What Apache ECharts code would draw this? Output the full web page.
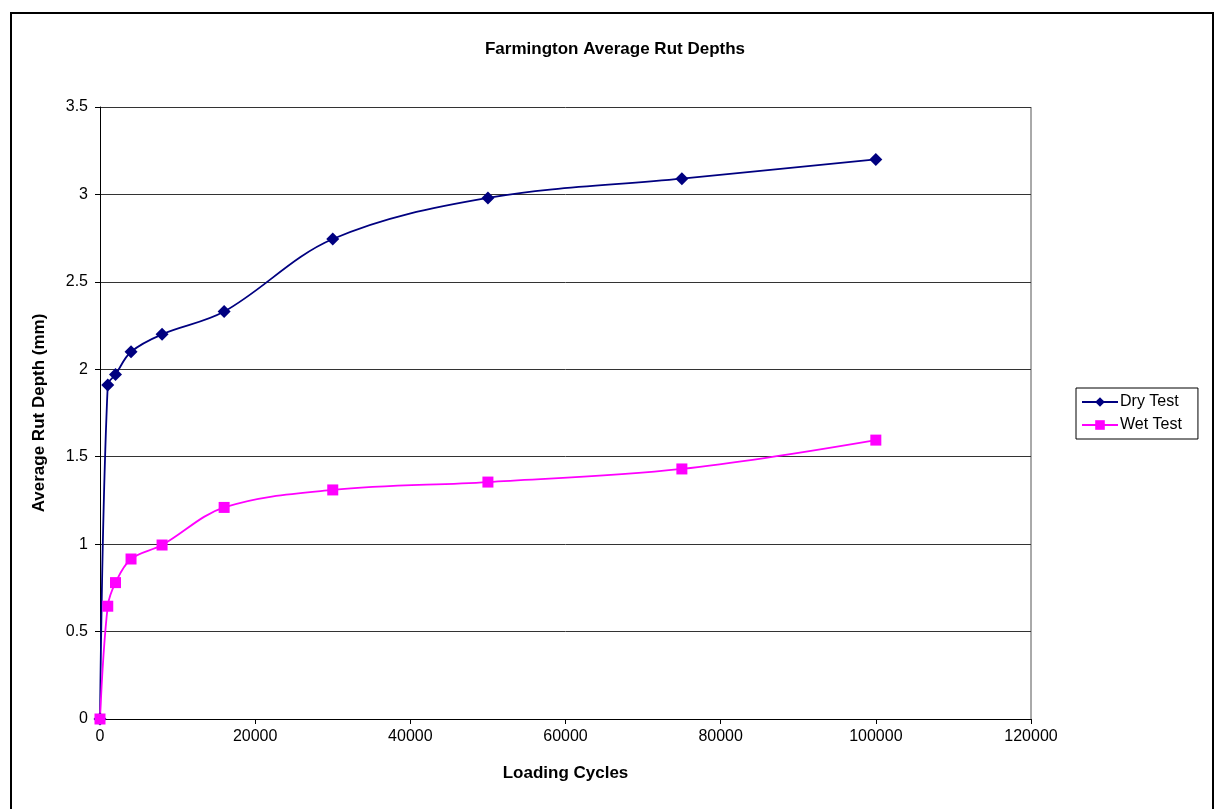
<!DOCTYPE html>
<html>
<head>
<meta charset="utf-8">
<script src="https://cdn.jsdelivr.net/npm/echarts@6/dist/echarts.min.js"></script>
<style>
  html, body { margin: 0; padding: 0; background: #fff; }
  #chart { width: 1215px; height: 809px; }
</style>
</head>
<body>
<div id="chart"></div>
<script>
// Loading cycles at which rut depth was measured
const cycles = [0, 1000, 2000, 4000, 8000, 16000, 30000, 50000, 75000, 100000];
// Average rut depth (mm)
const dryTest = [0, 1.91, 1.97, 2.10, 2.20, 2.33, 2.745, 2.98, 3.09, 3.20];
const wetTest = [0, 0.645, 0.78, 0.915, 0.995, 1.21, 1.31, 1.355, 1.43, 1.595];

const seriesNames = ['Dry Test', 'Wet Test'];
const titleText = 'Farmington Average Rut Depths';
const xAxisTitle = 'Loading Cycles';
const yAxisTitle = 'Average Rut Depth (mm)';

const pairs = (ys) => cycles.map((c, i) => [c, ys[i]]);
const font = 'Arial, "Liberation Sans", sans-serif';

const chart = echarts.init(document.getElementById('chart'), null, { renderer: 'canvas' });
chart.setOption({
  backgroundColor: '#ffffff',
  animation: false,
  title: {
    text: titleText,
    left: 610, top: 36, textAlign: 'center',
    textStyle: { fontFamily: font, fontWeight: 'bold', fontSize: 17, color: '#000' }
  },
  legend: {
    orient: 'vertical',
    left: 1076, top: 388,
    padding: [6, 16, 6, 5],
    itemGap: 7,
    itemWidth: 36, itemHeight: 12,
    borderColor: '#000', borderWidth: 1,
    textStyle: { fontFamily: font, fontSize: 16, color: '#000', padding: [0, 0, 0, -3] },
    data: seriesNames
  },
  grid: { left: 100, right: 184, top: 107, bottom: 90, show: false },
  xAxis: {
    type: 'value', min: 0, max: 120000, interval: 20000,
    name: xAxisTitle, nameLocation: 'middle', nameGap: 46,
    nameTextStyle: { fontFamily: font, fontWeight: 'bold', fontSize: 17, color: '#000' },
    axisLine: { show: true, lineStyle: { color: '#000', width: 1 } },
    axisTick: { show: true, length: 5, lineStyle: { color: '#000' } },
    axisLabel: { fontFamily: font, fontSize: 16, color: '#000', margin: 10,
                 formatter: (v) => String(v) },
    splitLine: { show: false }
  },
  yAxis: {
    type: 'value', min: 0, max: 3.5, interval: 0.5,
    name: yAxisTitle, nameLocation: 'middle', nameGap: 52,
    nameTextStyle: { fontFamily: font, fontWeight: 'bold', fontSize: 17, color: '#000' },
    axisLine: { show: true, lineStyle: { color: '#000', width: 1 } },
    axisTick: { show: true, length: 5, lineStyle: { color: '#000' } },
    axisLabel: { fontFamily: font, fontSize: 16, color: '#000', margin: 12 },
    splitLine: { show: true, lineStyle: { color: '#333', width: 1 } }
  },
  graphic: [
    // Outer chart frame
    { type: 'rect', shape: { x: 11, y: 13, width: 1202, height: 800 },
      style: { fill: 'none', stroke: '#000', lineWidth: 2 }, silent: true },
    // Plot-area right edge
    { type: 'line', shape: { x1: 1031, y1: 107, x2: 1031, y2: 719 },
      style: { stroke: '#555', lineWidth: 1 }, silent: true }
  ],
  series: [
    {
      name: seriesNames[0], type: 'line', data: pairs(dryTest),
      smooth: 0.35,
      symbol: 'diamond', symbolSize: 13,
      lineStyle: { color: '#000080', width: 1.8 },
      itemStyle: { color: '#000080' }
    },
    {
      name: seriesNames[1], type: 'line', data: pairs(wetTest),
      smooth: 0.35,
      symbol: 'rect', symbolSize: 11,
      lineStyle: { color: '#ff00ff', width: 1.8 },
      itemStyle: { color: '#ff00ff' }
    }
  ]
});
</script>
</body>
</html>
